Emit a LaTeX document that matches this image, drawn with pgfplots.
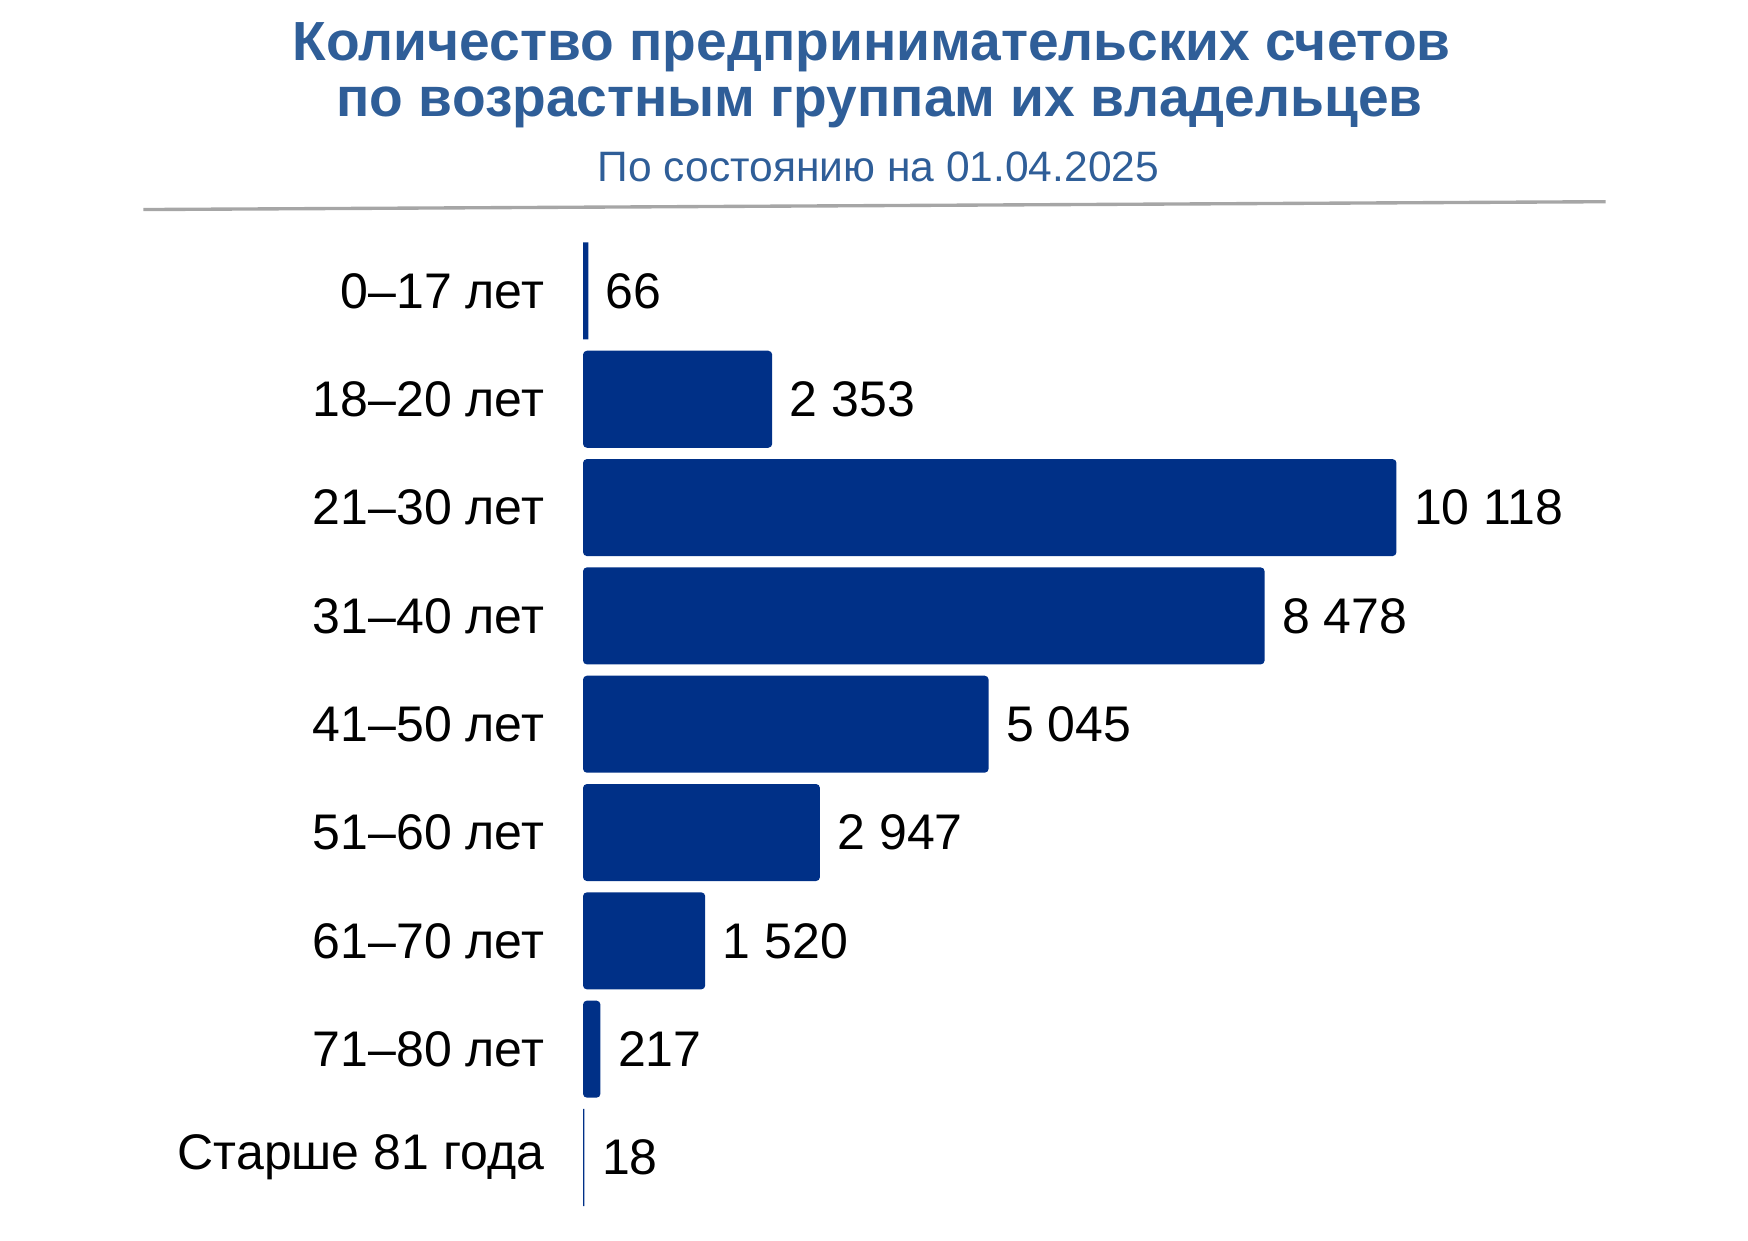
\documentclass[border=0pt]{standalone}
\usepackage{fontspec}
\setmainfont{Liberation Sans}
\usepackage{pgfplots}
\pgfplotsset{compat=1.18}
\definecolor{titleblue}{HTML}{2F5E98}
\definecolor{barblue}{HTML}{003087}
\definecolor{rulegray}{HTML}{A6A6A6}
\begin{document}
\begin{tikzpicture}
\path[use as bounding box] (0,0) rectangle (15.6,11.07);
% titles
\node[anchor=base, inner sep=0pt, text=titleblue,
      font=\bfseries\fontsize{14}{16}\selectfont] at (7.78,10.53)
  {Количество предпринимательских счетов};
\node[anchor=base, inner sep=0pt, text=titleblue,
      font=\bfseries\fontsize{14}{16}\selectfont] at (7.85,10.03)
  {по возрастным группам их владельцев};
\node[anchor=base, inner sep=0pt, text=titleblue,
      font=\fontsize{10.8}{13}\selectfont] at (7.84,9.45)
  {По состоянию на 01.04.2025};
\draw[rulegray, line width=0.03cm] (1.28,9.20) -- (14.33,9.27);

\begin{axis}[
    at={(5.203cm,0.257cm)}, anchor=south west,
    scale only axis,
    width=8.61cm, height=8.70cm,
    xmin=0, xmax=12000,
    ymin=-0.5, ymax=8.5,
    xbar, bar width=0.866cm, bar shift=0pt,
    axis line style={draw=none},
    major tick length=0pt,
    xtick=\empty,
    ytick={0,...,8},
    yticklabels={Старше 81 года, 71–80 лет, 61–70 лет, 51–60 лет,
                 41–50 лет, 31–40 лет, 21–30 лет, 18–20 лет, 0–17 лет},
    yticklabel style={font=\fontsize{12.7}{15}\selectfont, inner sep=0pt,
                      anchor=east, xshift=-0.34cm},
    clip=false,
    point meta=x,
    nodes near coords={\pgfmathprintnumber{\pgfplotspointmeta}},
    every node near coord/.append style={font=\fontsize{12.7}{15}\selectfont,
                      anchor=west, inner sep=0pt, xshift=0.15cm, black},
    /pgf/number format/.cd, fixed, precision=0, 1000 sep={\ },
      assume math mode=true,
]
% wide bars, rounded ends
\addplot[fill=barblue, draw=none, rounded corners=1pt] coordinates {
    (217,1) (1520,2) (2947,3) (5045,4)
    (8478,5) (10118,6) (2353,7)
};
% hairline bars
\addplot[fill=barblue, draw=none] coordinates {
    (18,0) (66,8)
};
\end{axis}
\end{tikzpicture}
\end{document}
